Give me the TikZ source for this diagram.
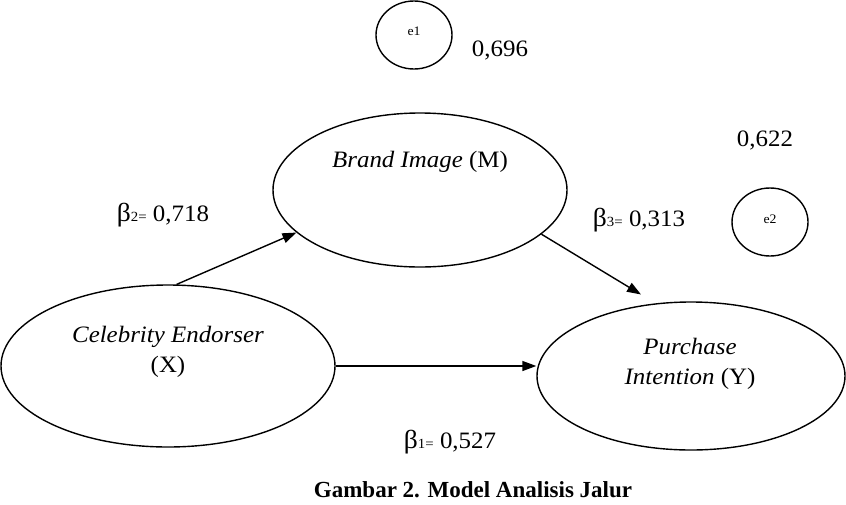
\documentclass[tikz,border=0pt]{standalone}
\usepackage{fontspec}
\setmainfont{Liberation Serif}
\newfontfamily\dfont{Liberation Serif}[FakeStretch=1.06]
\usetikzlibrary{shapes.geometric,arrows.meta}
\begin{document}
\begin{tikzpicture}[x=1pt,y=-1pt,
  ell/.style={draw, line width=1.4pt, ellipse, inner sep=0pt},
  txt/.style={font=\dfont\fontsize{23.5}{30}\selectfont, inner sep=0pt, align=center},
  small/.style={font=\dfont\fontsize{13}{15}\selectfont, inner sep=0pt},
  conn/.style={-{Triangle[length=14pt,width=10pt]}, line width=1.4pt}]
\useasboundingbox (0,0) rectangle (846,504);
% ellipses
\node[ell, minimum width=76pt, minimum height=68pt] (e1) at (414,35) {};
\node[ell, minimum width=76pt, minimum height=68pt] (e2) at (770,222) {};
\node[ell, minimum width=294pt, minimum height=154pt] (brand) at (420,190) {};
\node[ell, minimum width=334pt, minimum height=162pt] (cel) at (168,366) {};
\node[ell, minimum width=308pt, minimum height=148pt] (pur) at (691,376) {};
% texts
\node[small] (e1t) at (414,31) {e1};
\node[small] (e2t) at (770,219) {e2};
\node[txt] (brandt) at (420,162) {\textit{Brand Image} (M)};
\node[txt] (celt) at (168,352) {\textit{Celebrity Endorser}\\(X)};
\node[txt] (purt) at (690,364) {\textit{Purchase}\\\textit{Intention} (Y)};
\node[txt] (v696) at (500,50) {0,696};
\node[txt] (v622) at (765,140) {0,622};
\node[txt] (b2) at (163,215) {{\fontsize{26}{26}\selectfont β}{\fontsize{14}{14}\selectfont 2=} 0,718};
\node[txt] (b3) at (639,220) {{\fontsize{26}{26}\selectfont β}{\fontsize{14}{14}\selectfont 3=} 0,313};
\node[txt] (b1) at (450,442) {{\fontsize{26}{26}\selectfont β}{\fontsize{14}{14}\selectfont 1=} 0,527};
\node[txt, font=\fontsize{23}{28}\selectfont\bfseries] (title) at (473,490) {Gambar 2. Model Analisis Jalur};
% connectors
\draw[conn] (cel.84) -- (brand.199);
\draw[conn, shorten >=17pt] (brand.-20) -- (pur.116.6);
\draw[conn] (cel.east) -- (cel.east -| pur.west);
\end{tikzpicture}
\end{document}
